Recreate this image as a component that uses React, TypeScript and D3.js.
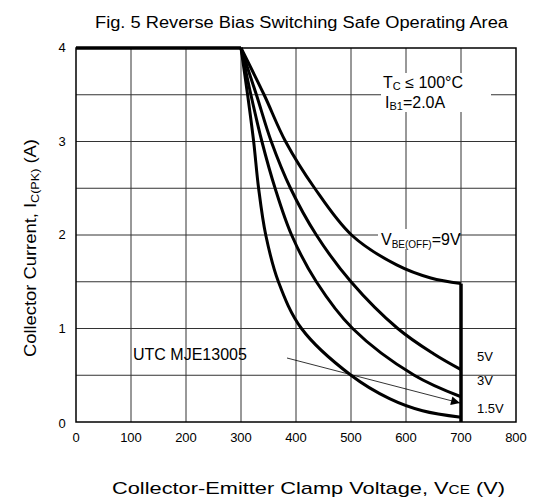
import React from "react";
import * as d3 from "d3";

// axis ticks
const xTicks = [0, 100, 200, 300, 400, 500, 600, 700, 800];
const yTicks = [0, 1, 2, 3, 4];
const yGrid = [0.5, 1, 1.5, 2, 2.5, 3, 3.5];

// RBSOA curves, VCE (V) vs IC(pk) (A)
const curve15V: [number, number][] = [[300, 4], [312, 3.5], [323, 3.0], [332, 2.5], [345, 2.0], [368, 1.5], [410, 1.0], [500, 0.5], [570, 0.25], [630, 0.12], [700, 0.05]];
const curve3V: [number, number][] = [[300, 4], [318, 3.5], [338, 3.0], [362, 2.5], [392, 2.0], [437, 1.5], [503, 1.0], [615, 0.5], [700, 0.27]];
const curve5V: [number, number][] = [[300, 4], [328, 3.5], [355, 3.0], [390, 2.5], [437, 2.0], [500, 1.5], [585, 1.0], [650, 0.73], [700, 0.56]];
const curve9V: [number, number][] = [[300, 4], [342, 3.5], [381, 3.0], [434, 2.5], [501, 2.0], [583, 1.68], [645, 1.54], [700, 1.48]];
const topLimit: [number, number][] = [[0, 4], [300, 4]];
const clampLimit: [number, number][] = [[700, 1.48], [700, 0]];

const curves = [curve15V, curve3V, curve5V, curve9V];
const endLabels = [
  { text: "5V", v: 0.56, dy: -9 },
  { text: "3V", v: 0.27, dy: -12 },
  { text: "1.5V", v: 0.05, dy: -4 },
];

const font = "'Liberation Sans', Arial, sans-serif";

export default function App() {
  const x = d3.scaleLinear().domain([0, 800]).range([76, 516]);
  const y = d3.scaleLinear().domain([0, 4]).range([422, 48]);

  const line = d3.line<[number, number]>()
    .x(d => x(d[0]))
    .y(d => y(d[1]))
    .curve(d3.curveCatmullRom.alpha(0.5));
  const straight = d3.line<[number, number]>().x(d => x(d[0])).y(d => y(d[1]));

  return (
    <svg width={540} height={504} style={{ display: "block", position: "absolute", left: 0, top: 0, background: "#fff" }} fontFamily={font}>
      <defs>
        <marker id="arr" viewBox="0 0 10 10" refX="10" refY="5" markerWidth="16" markerHeight="9" markerUnits="userSpaceOnUse" orient="auto">
          <path d="M0,0 L10,5 L0,10 z" fill="#000" />
        </marker>
      </defs>
      <text x={95} y={28} fontSize={16} textLength={413} lengthAdjust="spacingAndGlyphs">Fig. 5 Reverse Bias Switching Safe Operating Area</text>

      {/* grid */}
      {xTicks.slice(1, -1).map(t => (
        <line key={"gx" + t} x1={x(t)} x2={x(t)} y1={y(0)} y2={y(4)} stroke="#333" strokeWidth={1} />
      ))}
      {yGrid.map(t => (
        <line key={"gy" + t} x1={x(0)} x2={x(800)} y1={y(t)} y2={y(t)} stroke="#333" strokeWidth={1} />
      ))}
      <rect x={x(0)} y={y(4)} width={x(800) - x(0)} height={y(0) - y(4)} fill="none" stroke="#000" strokeWidth={1.5} />

      {/* tick labels */}
      {xTicks.map(t => (
        <text key={"tx" + t} x={x(t)} y={442} textAnchor="middle" fontSize={13}>{t}</text>
      ))}
      {yTicks.map(t => (
        <text key={"ty" + t} x={62} y={y(t) + (t === 0 ? 6 : 4)} textAnchor="middle" fontSize={13}>{t}</text>
      ))}

      {/* curves */}
      {curves.map((c, i) => (
        <path key={"c" + i} d={line(c) || ""} fill="none" stroke="#000" strokeWidth={3} />
      ))}
      <path d={straight(topLimit) || ""} fill="none" stroke="#000" strokeWidth={3.5} />
      <path d={straight(clampLimit) || ""} fill="none" stroke="#000" strokeWidth={3.5} />

      {/* annotations */}
      <rect x={381} y={73} width={110} height={39} fill="#fff" />
      <text x={383} y={88} fontSize={16}>
        T<tspan fontSize={11} dy={2}>C</tspan><tspan dy={-2}> ≤ 100°C</tspan>
      </text>
      <text x={385} y={108} fontSize={16}>
        I<tspan fontSize={11} dy={2}>B1</tspan><tspan dy={-2}>=2.0A</tspan>
      </text>

      <rect x={378} y={229} width={80} height={20} fill="#fff" />
      <text x={381} y={245} fontSize={16}>
        V<tspan fontSize={10} dy={3}>BE(OFF)</tspan><tspan dy={-3}>=9V</tspan>
      </text>

      {endLabels.map(l => (
        <text key={l.text} x={477} y={y(l.v) + l.dy} fontSize={13}>{l.text}</text>
      ))}

      <text x={133} y={360} fontSize={16}>UTC MJE13005</text>
      <line x1={287} y1={358} x2={460} y2={403} stroke="#000" strokeWidth={0.8} markerEnd="url(#arr)" />

      <text transform="translate(36, 357) rotate(-90)" fontSize={16} textLength={218} lengthAdjust="spacingAndGlyphs">
        Collector Current, I<tspan fontSize={11} dy={3}>C(PK)</tspan><tspan dy={-3}> (A)</tspan>
      </text>
      <text x={112} y={494} fontSize={17} textLength={393} lengthAdjust="spacingAndGlyphs">
        Collector-Emitter Clamp Voltage, V<tspan fontSize={12}>CE</tspan> (V)
      </text>
    </svg>
  );
}
